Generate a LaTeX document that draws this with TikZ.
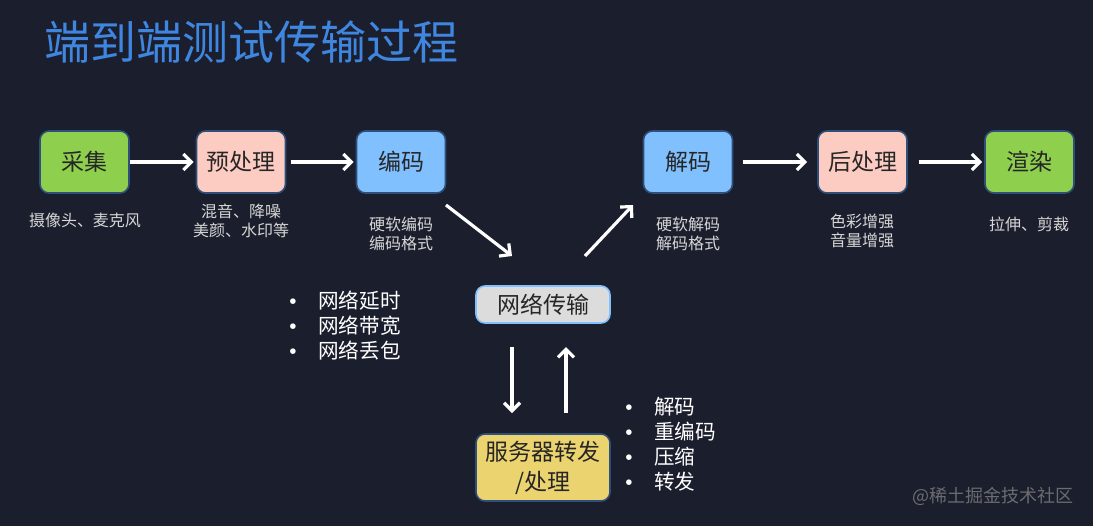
\documentclass[tikz,border=0pt]{standalone}
\usepackage{fontspec}
\setmainfont{Noto Sans CJK SC}
\newfontfamily\dotfont{Liberation Sans}
\usetikzlibrary{arrows.meta,positioning}
\definecolor{bgnavy}{HTML}{1B1F2D}
\definecolor{titleblue}{HTML}{3F86E0}
\definecolor{boxgreen}{HTML}{8ED04E}
\definecolor{boxpink}{HTML}{FCCBC2}
\definecolor{boxblue}{HTML}{80C0FF}
\definecolor{boxgray}{HTML}{DCDCDC}
\definecolor{boxyellow}{HTML}{EBD370}
\definecolor{boxedge}{HTML}{2E4F7A}
\definecolor{labelgray}{HTML}{D6D6D6}

\newcommand{\pt}{\makebox[1.4em][l]{\dotfont •}}

\tikzset{
  stage/.style={draw=boxedge, line width=0.8pt, rectangle, rounded corners=4.5pt,
    minimum width=44.5pt, minimum height=31pt, text=black!85,
    font=\fontsize{11.5}{14}\selectfont},
  note/.style={text=labelgray, align=center, inner sep=0pt,
    font=\fontsize{8}{9.5}\selectfont},
  bullets/.style={text=white, align=left, anchor=west, inner sep=0pt,
    font=\fontsize{10.3}{12.5}\selectfont},
  flow/.style={draw=white, line width=1.6pt, -{Straight Barb[length=4pt,width=8pt]}}
}

\begin{document}
\begin{tikzpicture}[x=0.5pt, y=-0.5pt]
    \fill[bgnavy] (0,0) rectangle (1093,526);
    \useasboundingbox (0,0) rectangle (1093,526);

    % title
    \node[text=titleblue, anchor=west, inner sep=0pt, font=\fontsize{23}{26}\selectfont] (title) at (44,42) {端到端测试传输过程};

    % pipeline
    \node[stage, fill=boxgreen] (collect) at (84.5,162) {采集};
    \node[stage, fill=boxpink] (preproc) at (241,162) {预处理};
    \node[stage, fill=boxblue] (encode) at (401,162) {编码};
    \node[stage, fill=boxblue] (decode) at (688,162) {解码};
    \node[stage, fill=boxpink] (postproc) at (862.5,162) {后处理};
    \node[stage, fill=boxgreen] (render) at (1029.5,162) {渲染};

    \node[stage, fill=boxgray, draw=boxblue, minimum width=67pt, minimum height=18.5pt] (network) at (543,304.5) {网络传输};
    \node[stage, fill=boxyellow, minimum width=67pt, minimum height=33.5pt, align=center,
      font=\fontsize{11.5}{15}\selectfont] (server) at (543,467.5) {服务器转发\\/处理};

    \draw[flow, shorten >=1pt] (collect) -- (preproc);
    \draw[flow, shorten <=2.5pt, shorten >=1pt] (preproc) -- (encode);
    \draw[flow, shorten <=5pt, shorten >=5pt] (decode) -- (postproc);
    \draw[flow, shorten <=5.5pt, shorten >=1pt] (postproc) -- (render);

    \coordinate (encout) at (446,205);
    \coordinate (netin) at (512,256);
    \coordinate (netout) at (585,256);
    \coordinate (decin) at (633,205);
    \draw[flow] (encout) -- (netin);
    \draw[flow] (netout) -- (decin);

    \coordinate (downtop) at (512,347);
    \coordinate (downend) at (512,413);
    \coordinate (uptop) at (566,347);
    \coordinate (upend) at (566,413);
    \draw[flow] (downtop) -- (downend);
    \draw[flow] (upend) -- (uptop);

    % notes under the stages
    \node[note] (collectnote) at (85,220) {摄像头、麦克风};
    \node[note] (preprocnote) at (241,221) {混音、降噪\\美颜、水印等};
    \node[note] (encodenote) at (401,234) {硬软编码\\编码格式};
    \node[note] (decodenote) at (688,234) {硬软解码\\解码格式};
    \node[note] (postprocnote) at (862,231) {色彩增强\\音量增强};
    \node[note] (rendernote) at (1029,224) {拉伸、剪裁};

    % bullet lists
    \node[bullets] (netlist) at (289,326) {\pt 网络延时\\\pt 网络带宽\\\pt 网络丢包};
    \node[bullets] (serverlist) at (625,444.5) {\pt 解码\\\pt 重编码\\\pt 压缩\\\pt 转发};

    \node[text=gray!80!bgnavy, anchor=east, inner sep=0pt, font=\fontsize{9}{11}\selectfont] (mark) at (1074,496) {@稀土掘金技术社区};
\end{tikzpicture}
\end{document}
